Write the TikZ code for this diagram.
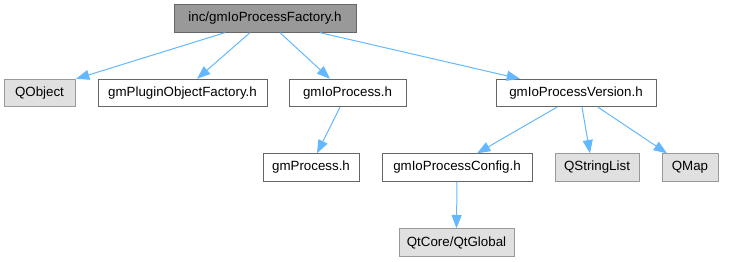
\documentclass[tikz,border=0pt]{standalone}
\usepackage{fontspec}
\setmainfont{Liberation Sans}
\usetikzlibrary{arrows.meta}
\definecolor{edgeblue}{HTML}{63B8FF}
\definecolor{topfill}{HTML}{999999}
\definecolor{darkborder}{HTML}{666666}
\definecolor{grayfill}{HTML}{E0E0E0}
\definecolor{grayborder}{HTML}{999999}
\tikzset{
  box/.style={rectangle, inner sep=0pt, minimum height=20.5pt, font=\fontsize{10pt}{12pt}\selectfont, line width=0.75pt},
  topbox/.style={box, draw=darkborder, fill=topfill},
  whitebox/.style={box, draw=darkborder, fill=white},
  graybox/.style={box, draw=grayborder, fill=grayfill},
  dep/.style={draw=edgeblue, line width=0.75pt, -{Triangle[length=10pt,width=7.5pt]}, edgeblue}
}
\begin{document}
\begin{tikzpicture}[x=0.75pt,y=-0.75pt]
\useasboundingbox (0,0) rectangle (739,261);
\node[topbox, minimum width=136.5pt] (top) at (265,18.5) {inc/gmIoProcessFactory.h};
\node[graybox, minimum width=53.25pt] (qobj) at (39.5,93) {QObject};
\node[whitebox, minimum width=126.75pt] (plugin) at (182.5,93) {gmPluginObjectFactory.h};
\node[whitebox, minimum width=87.75pt] (proc) at (347.5,93) {gmIoProcess.h};
\node[whitebox, minimum width=120pt] (ver) at (576,93) {gmIoProcessVersion.h};
\node[whitebox, minimum width=72pt] (gmproc) at (311,167.5) {gmProcess.h};
\node[whitebox, minimum width=112.5pt] (conf) at (457,167.5) {gmIoProcessConfig.h};
\node[graybox, minimum width=63pt] (qsl) at (597,167.5) {QStringList};
\node[graybox, minimum width=42pt] (qmap) at (690,167.5) {QMap};
\node[graybox, minimum width=86.25pt] (qtg) at (456.5,242.5) {QtCore/QtGlobal};
\draw[dep] ([xshift=-30pt]top.south) -- ([xshift=27.4pt]qobj.north);
\draw[dep] ([xshift=-11.25pt]top.south) -- ([xshift=10.9pt]plugin.north);
\draw[dep] ([xshift=11.25pt]top.south) -- ([xshift=-13.1pt]proc.north);
\draw[dep] ([xshift=41.25pt]top.south) -- ([xshift=-42pt]ver.north);
\draw[dep] ([xshift=-5.6pt]proc.south) -- ([xshift=4.5pt]gmproc.north);
\draw[dep] ([xshift=-14.25pt]ver.south) -- ([xshift=15pt]conf.north);
\draw[dep] ([xshift=4.5pt]ver.south) -- ([xshift=-5.25pt]qsl.north);
\draw[dep] ([xshift=16.5pt]ver.south) -- ([xshift=-17.25pt]qmap.north);
\draw[dep] (conf.south) -- (qtg.north);
\end{tikzpicture}
\end{document}
